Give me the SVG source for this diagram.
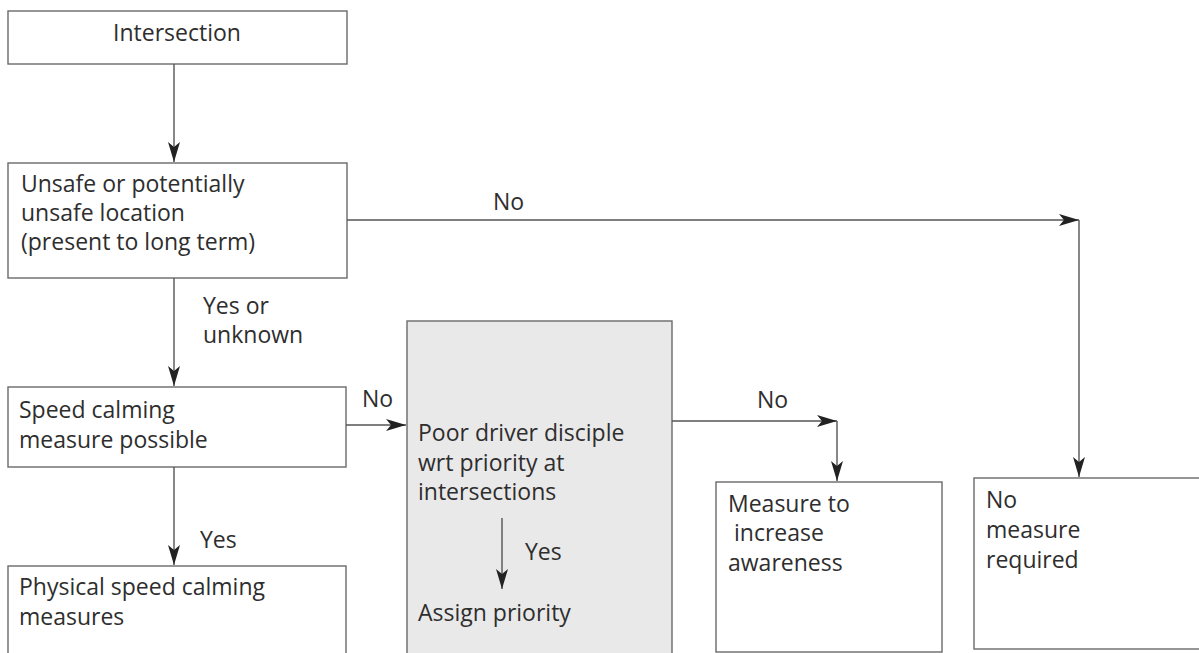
<svg xmlns="http://www.w3.org/2000/svg" width="1199" height="653" viewBox="0 0 1199 653">
<style>
.box{fill:#fff;stroke:#6a6a6a;stroke-width:1.4}
.grey{fill:#e9e9e9}
.t{font-family:"Open Sans","Liberation Sans",sans-serif;font-size:23px;fill:#2e2e2e}
.c{stroke:#555;stroke-width:1.4;fill:none;marker-end:url(#ah)}
</style>
<defs>
<marker id="ah" viewBox="0 0 20 12" markerWidth="20" markerHeight="12" refX="20" refY="6" orient="auto" markerUnits="userSpaceOnUse">
<path d="M0,0 L20,6 L0,12 L5,6 Z" fill="#222"/>
</marker>
</defs>
<rect width="1199" height="653" fill="#fff"/>
<g id="n-intersection">
<rect class="box" x="8" y="11" width="339" height="53"/>
<text class="t" x="177" y="41" text-anchor="middle">Intersection</text>
</g>
<g id="n-unsafe">
<rect class="box" x="8" y="163" width="339" height="115"/>
<text class="t" x="21" y="192">Unsafe or potentially</text>
<text class="t" x="21" y="221">unsafe location</text>
<text class="t" x="21" y="250">(present to long term)</text>
</g>
<g id="n-speed">
<rect class="box" x="8" y="387" width="338" height="80"/>
<text class="t" x="19" y="418">Speed calming</text>
<text class="t" x="19" y="448">measure possible</text>
</g>
<g id="n-physical">
<rect class="box" x="8" y="566" width="338" height="100"/>
<text class="t" x="19" y="595">Physical speed calming</text>
<text class="t" x="19" y="625">measures</text>
</g>
<g id="n-poor">
<rect class="box grey" x="407" y="321" width="265" height="345"/>
<text class="t" x="418" y="441">Poor driver disciple</text>
<text class="t" x="418" y="471">wrt priority at</text>
<text class="t" x="418" y="500">intersections</text>
<text class="t" x="418" y="621">Assign priority</text>
</g>
<g id="n-awareness">
<rect class="box" x="716" y="482" width="226" height="170"/>
<text class="t" x="728" y="512">Measure to</text>
<text class="t" x="728" y="541" xml:space="preserve"> increase</text>
<text class="t" x="728" y="571">awareness</text>
</g>
<g id="n-nomeasure">
<rect class="box" x="974" y="478" width="235" height="171"/>
<text class="t" x="986" y="508">No</text>
<text class="t" x="986" y="538">measure</text>
<text class="t" x="986" y="568">required</text>
</g>
<g id="connectors">
<path class="c" d="M174,64 V162"/>
<path class="c" d="M174,278 V386"/>
<path class="c" d="M174,467 V565"/>
<path class="c" d="M346,425 H406"/>
<path class="c" d="M502,518 V589"/>
<path class="c" d="M347,220 H1079"/>
<path class="c" d="M1079,220 V477"/>
<path class="c" d="M672,421 H837"/>
<path class="c" d="M837,421 V481"/>
<text class="t" x="493" y="210">No</text>
<text class="t" x="203" y="314">Yes or</text>
<text class="t" x="203" y="343">unknown</text>
<text class="t" x="362" y="407">No</text>
<text class="t" x="200" y="548">Yes</text>
<text class="t" x="525" y="560">Yes</text>
<text class="t" x="757" y="408">No</text>
</g>
</svg>
